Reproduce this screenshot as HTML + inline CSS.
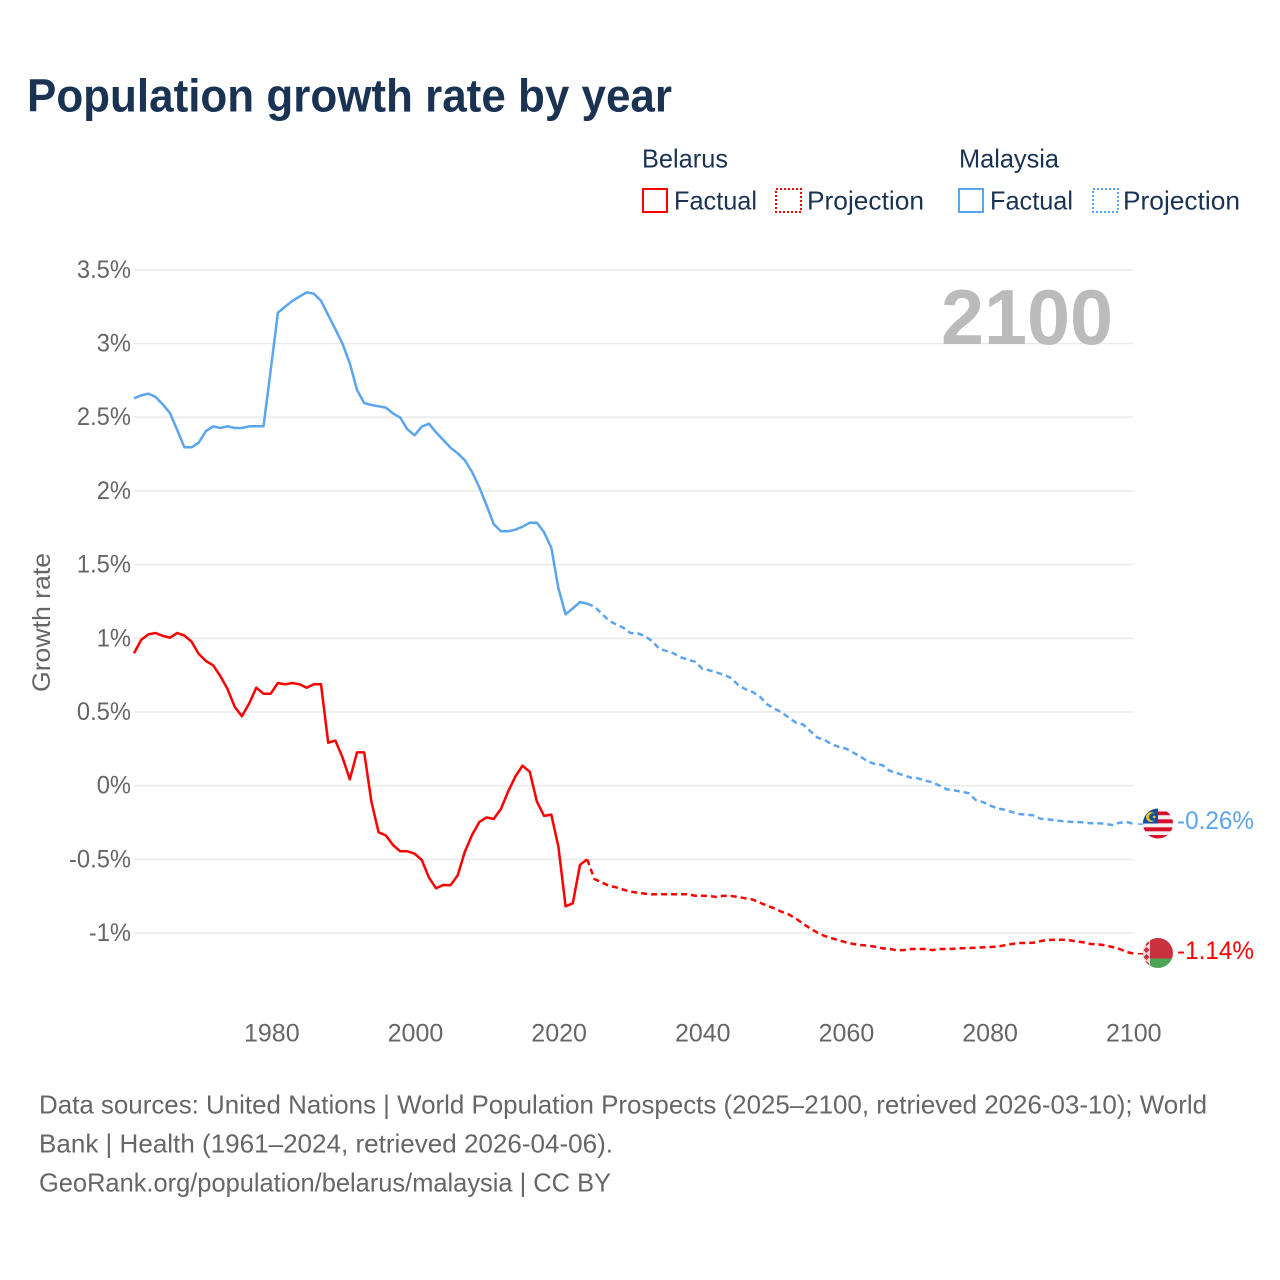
<!DOCTYPE html>
<html lang="en">
<head>
<meta charset="utf-8">
<title>Population growth rate by year</title>
<style>
html,body{margin:0;padding:0;background:#fff;width:1280px;height:1280px;overflow:hidden}
svg{display:block;font-family:"Liberation Sans",Arial,sans-serif}
</style>
</head>
<body>
<svg id="chart" width="1280" height="1280" viewBox="0 0 1280 1280" xmlns="http://www.w3.org/2000/svg">
<defs>
<clipPath id="flag-clip-my"><circle cx="1158" cy="823.5" r="15"/></clipPath>
<clipPath id="flag-clip-by"><circle cx="1158" cy="953" r="15"/></clipPath>
</defs>
<rect width="1280" height="1280" fill="#fff"/>
<text x="27" y="111.5" font-size="46" font-weight="700" fill="#1a3353" textLength="645" lengthAdjust="spacingAndGlyphs">Population growth rate by year</text>

<g font-size="26" fill="#1a3353">
<text x="642" y="167.5" textLength="86" lengthAdjust="spacingAndGlyphs">Belarus</text>
<text x="959" y="167.5" textLength="100" lengthAdjust="spacingAndGlyphs">Malaysia</text>
<g>
<rect x="643" y="189" width="24" height="23" fill="none" stroke="#ff0000" stroke-width="2"/>
<text x="674" y="209.5" textLength="83" lengthAdjust="spacingAndGlyphs">Factual</text>
</g>
<g>
<rect x="776" y="189" width="25" height="23" fill="none" stroke="#ff0000" stroke-width="2" stroke-dasharray="2 2"/>
<text x="807" y="209.5" textLength="117" lengthAdjust="spacingAndGlyphs">Projection</text>
</g>
<g>
<rect x="959" y="189" width="24" height="23" fill="none" stroke="#5ba5ee" stroke-width="2"/>
<text x="990" y="209.5" textLength="83" lengthAdjust="spacingAndGlyphs">Factual</text>
</g>
<g>
<rect x="1093" y="189" width="25" height="23" fill="none" stroke="#5ba5ee" stroke-width="2" stroke-dasharray="2 2"/>
<text x="1123" y="209.5" textLength="117" lengthAdjust="spacingAndGlyphs">Projection</text>
</g>
</g>

<g id="grid"></g>
<g id="yticks" font-size="25" fill="#666" text-anchor="end"></g>
<g id="xticks" font-size="25" fill="#666" text-anchor="middle"></g>
<text transform="translate(50,692) rotate(-90)" font-size="25" fill="#666" textLength="139" lengthAdjust="spacingAndGlyphs">Growth rate</text>
<text x="941" y="344" font-size="78" font-weight="700" fill="#bbbbbb" textLength="172" lengthAdjust="spacingAndGlyphs">2100</text>

<g id="series"></g>

<g clip-path="url(#flag-clip-my)">
<rect x="1143" y="808" width="30" height="31" fill="#f2f2f2"/>
<rect x="1143" y="811.5" width="30" height="3.7" fill="#d8102c"/>
<rect x="1143" y="819.3" width="30" height="4" fill="#d8102c"/>
<rect x="1143" y="827.3" width="30" height="4" fill="#d8102c"/>
<rect x="1143" y="835" width="30" height="4" fill="#d8102c"/>
<rect x="1143" y="808" width="15" height="15.5" fill="#0f4ea0"/>
<circle cx="1151" cy="817" r="5" fill="#f5c21a"/>
<circle cx="1152.8" cy="817" r="3.7" fill="#0f4ea0"/>
<circle cx="1154.2" cy="817" r="1.4" fill="#f5c21a"/>
</g>
<g clip-path="url(#flag-clip-by)">
<rect x="1143" y="938" width="30" height="20.5" fill="#c9313f"/>
<rect x="1143" y="958.5" width="30" height="10.5" fill="#4ea55a"/>
<rect x="1143" y="938" width="7" height="31" fill="#f1d9db"/>
<path d="M1146.5 940l3 3-3 3-3-3zM1146.5 947l3 3-3 3-3-3zM1146.5 954l3 3-3 3-3-3zM1146.5 961l3 3-3 3-3-3z" fill="#c9313f"/>
</g>
<text x="1177" y="829" font-size="25" fill="#5ba5ee" textLength="77" lengthAdjust="spacingAndGlyphs">-0.26%</text>
<text x="1177" y="959" font-size="25" fill="#ff0000" textLength="77" lengthAdjust="spacingAndGlyphs">-1.14%</text>

<g font-size="26" fill="#666">
<text x="39" y="1113.5" textLength="1168" lengthAdjust="spacingAndGlyphs">Data sources: United Nations | World Population Prospects (2025–2100, retrieved 2026-03-10); World</text>
<text x="39" y="1152.5" textLength="574" lengthAdjust="spacingAndGlyphs">Bank | Health (1961–2024, retrieved 2026-04-06).</text>
<text x="39" y="1191.5" textLength="572" lengthAdjust="spacingAndGlyphs">GeoRank.org/population/belarus/malaysia | CC BY</text>
</g>
</svg>
<script>
const yTickValues = [3.5, 3, 2.5, 2, 1.5, 1, 0.5, 0, -0.5, -1];
const xTickYears = [1980, 2000, 2020, 2040, 2060, 2080, 2100];
const factualStartYear = 1961;
const projectionStartYear = 2025;

const malaysiaFactual = [
2.628,2.648,2.66,2.637,2.587,2.528,2.413,2.296,2.296,2.327,
2.406,2.438,2.427,2.438,2.427,2.427,2.438,2.438,2.438,2.82,
3.209,3.25,3.288,3.318,3.347,3.338,3.29,3.193,3.096,2.997,
2.866,2.685,2.596,2.583,2.574,2.565,2.526,2.497,2.418,2.377,
2.436,2.456,2.397,2.345,2.293,2.255,2.207,2.128,2.024,1.904,
1.775,1.726,1.726,1.737,1.757,1.784,1.784,1.719,1.615,1.339,
1.163,1.203,1.246,1.235];

const malaysiaProjection = [
1.215,1.169,1.12,1.095,1.072,1.036,1.034,1.016,0.982,0.93,
0.914,0.898,0.871,0.855,0.841,0.794,0.783,0.767,0.753,0.731,
0.683,0.654,0.636,0.604,0.552,0.523,0.498,0.462,0.428,0.416,
0.371,0.326,0.31,0.281,0.263,0.251,0.224,0.197,0.165,0.147,
0.14,0.102,0.086,0.07,0.054,0.05,0.034,0.023,0,-0.025,
-0.031,-0.041,-0.05,-0.097,-0.111,-0.135,-0.154,-0.163,-0.178,-0.192,
-0.197,-0.201,-0.224,-0.228,-0.235,-0.24,-0.244,-0.246,-0.249,-0.255,
-0.255,-0.258,-0.267,-0.251,-0.246,-0.26];

const belarusFactual = [
0.898,0.989,1.027,1.036,1.016,1.004,1.036,1.018,0.977,0.894,
0.846,0.817,0.744,0.656,0.536,0.471,0.557,0.665,0.624,0.624,
0.697,0.688,0.697,0.688,0.665,0.688,0.688,0.292,0.306,0.19,
0.043,0.226,0.226,-0.108,-0.316,-0.337,-0.402,-0.445,-0.445,-0.461,
-0.504,-0.624,-0.696,-0.674,-0.676,-0.608,-0.447,-0.334,-0.246,-0.215,
-0.226,-0.158,-0.04,0.061,0.136,0.095,-0.108,-0.205,-0.196,-0.414,
-0.818,-0.798,-0.536,-0.5];

const belarusProjection = [
-0.633,-0.656,-0.678,-0.689,-0.705,-0.719,-0.726,-0.732,-0.737,-0.737,
-0.737,-0.737,-0.737,-0.737,-0.746,-0.746,-0.748,-0.755,-0.746,-0.748,
-0.755,-0.764,-0.773,-0.793,-0.814,-0.832,-0.855,-0.873,-0.9,-0.936,
-0.968,-0.997,-1.02,-1.035,-1.049,-1.063,-1.074,-1.081,-1.085,-1.092,
-1.103,-1.108,-1.115,-1.115,-1.108,-1.108,-1.108,-1.115,-1.108,-1.108,
-1.106,-1.103,-1.101,-1.099,-1.097,-1.094,-1.092,-1.083,-1.074,-1.067,
-1.067,-1.065,-1.054,-1.047,-1.045,-1.045,-1.049,-1.056,-1.063,-1.074,
-1.076,-1.083,-1.094,-1.108,-1.128,-1.14];

const SVGNS = 'http://www.w3.org/2000/svg';
function xScale(year){ return 134 + 7.194 * (year - 1961); }
function yScale(v){ return 785.7 - 147.4 * v; }
function xTickPos(year){ return 271.8 + 7.183 * (year - 1980); }
function make(tag, attrs){
  const el = document.createElementNS(SVGNS, tag);
  for (const k in attrs) el.setAttribute(k, attrs[k]);
  return el;
}
function tickText(v){ return v + '%'; }

const gridG = document.getElementById('grid');
const yG = document.getElementById('yticks');
yTickValues.forEach(function(v){
  const y = yScale(v);
  const line = make('line', {x1:134, x2:1133, y1:y, y2:y, stroke:'#ebebeb', 'stroke-width':1.6});
  
  
  gridG.appendChild(line);
  const t = make('text', {x:131, y:y + 8});
  
  
  t.textContent = tickText(v);
  yG.appendChild(t);
  t.setAttribute('textLength', (t.getComputedTextLength() * 0.95).toFixed(1));
  t.setAttribute('lengthAdjust', 'spacingAndGlyphs');
});

const xG = document.getElementById('xticks');
xTickYears.forEach(function(yr){
  const t = make('text', {x:xTickPos(yr), y:1041.5});
  
  
  t.textContent = String(yr);
  xG.appendChild(t);
});

function pointsFrom(values, startYear){
  return values.map(function(v, i){
    return xScale(startYear + i).toFixed(1) + ',' + yScale(v).toFixed(1);
  });
}
const seriesG = document.getElementById('series');
function drawSeries(color, factual, projection, prefix){
  const f = make('polyline', {points:pointsFrom(factual, factualStartYear).join(' '), fill:'none', stroke:color, 'stroke-width':2.5, 'stroke-linejoin':'round'});
  
  
  seriesG.appendChild(f);
  const lastF = factual[factual.length - 1];
  const pPts = [xScale(projectionStartYear - 1).toFixed(1) + ',' + yScale(lastF).toFixed(1)].concat(pointsFrom(projection, projectionStartYear));
  const p = make('polyline', {points:pPts.join(' '), fill:'none', stroke:color, 'stroke-width':2.5, 'stroke-dasharray':'6 4'});
  
  
  seriesG.appendChild(p);
  const lastV = projection[projection.length - 1];
  const c = make('line', {x1:xScale(2100) + 4, x2:1146, y1:yScale(lastV), y2:yScale(lastV), stroke:color, 'stroke-width':1.5});
  
  
  seriesG.appendChild(c);
}
drawSeries('#5ba5ee', malaysiaFactual, malaysiaProjection, 'malaysia');
drawSeries('#ff0000', belarusFactual, belarusProjection, 'belarus');
</script>
</body>
</html>
